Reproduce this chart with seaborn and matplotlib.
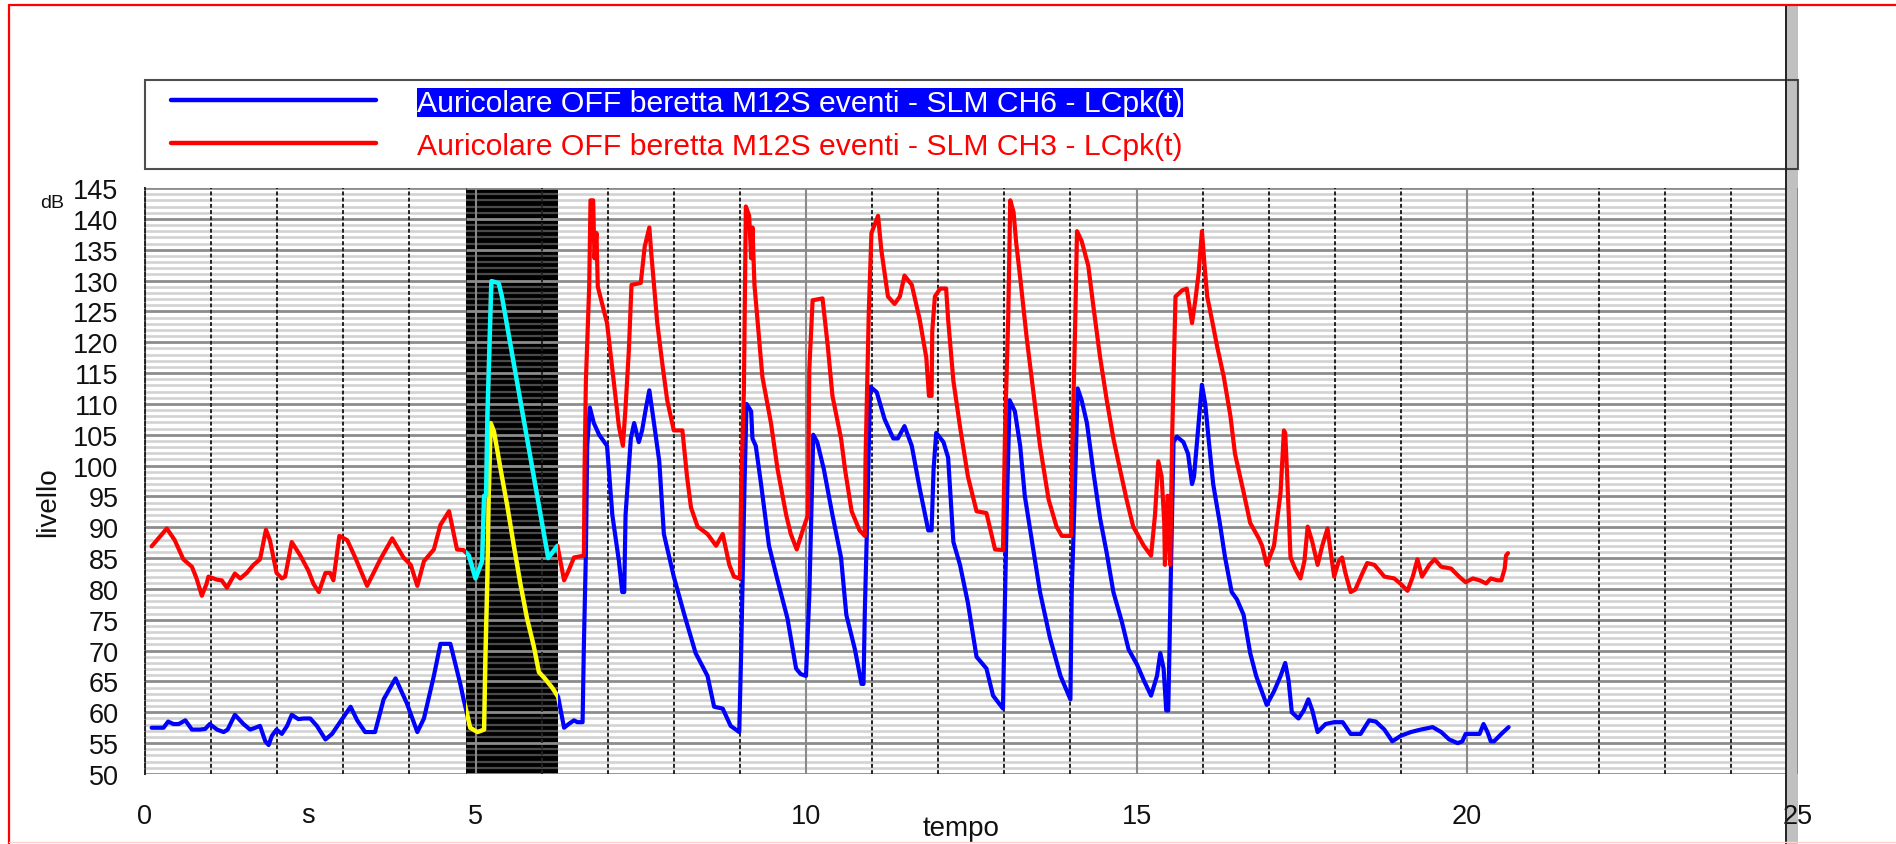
import numpy as np
import matplotlib
matplotlib.use("Agg")
import matplotlib.pyplot as plt
import seaborn as sns
from matplotlib.lines import Line2D
from matplotlib.patches import Rectangle
from matplotlib.ticker import FixedLocator, MultipleLocator
from matplotlib.legend_handler import HandlerLine2D

# ---------------- data ----------------
label_ch6 = "Auricolare OFF beretta M12S eventi - SLM CH6 - LCpk(t)"
label_ch3 = "Auricolare OFF beretta M12S eventi - SLM CH3 - LCpk(t)"

t_ch6 = [0.10, 0.28, 0.35, 0.43, 0.51, 0.61, 0.71, 0.83, 0.91, 0.98, 1.09, 1.19, 1.25, 1.36, 1.49,
         1.59, 1.67, 1.74, 1.82, 1.87, 1.92, 1.99, 2.07, 2.15, 2.22, 2.32, 2.40, 2.50, 2.60, 2.73,
         2.83, 2.95, 3.11, 3.21, 3.33, 3.48, 3.61, 3.79, 3.96, 4.12, 4.22, 4.37, 4.47, 4.62, 4.77,
         4.82, 4.86, 4.92, 5.03, 5.13, 5.15, 5.18, 5.20, 5.23, 5.28, 5.38, 5.48, 5.58, 5.68, 5.78,
         5.88, 5.96, 6.04, 6.16, 6.25, 6.34, 6.41, 6.49, 6.54, 6.62, 6.64, 6.67, 6.69, 6.73, 6.79,
         6.87, 6.99, 7.07, 7.17, 7.22, 7.25, 7.27, 7.35, 7.40, 7.47, 7.52, 7.58, 7.63, 7.70, 7.78,
         7.85, 8.00, 8.16, 8.33, 8.51, 8.61, 8.74, 8.86, 8.99, 9.02, 9.07, 9.10, 9.17, 9.19, 9.24,
         9.32, 9.44, 9.57, 9.72, 9.85, 9.92, 10.00, 10.05, 10.08, 10.11, 10.17, 10.27, 10.40, 10.53,
         10.61, 10.74, 10.84, 10.87, 10.89, 10.92, 10.97, 11.07, 11.19, 11.32, 11.39, 11.49, 11.60,
         11.72, 11.85, 11.90, 11.93, 11.97, 12.08, 12.15, 12.23, 12.33, 12.45, 12.58, 12.73, 12.83,
         12.98, 13.01, 13.04, 13.08, 13.16, 13.24, 13.31, 13.42, 13.54, 13.69, 13.85, 14.00, 14.02,
         14.07, 14.11, 14.17, 14.25, 14.35, 14.45, 14.55, 14.65, 14.78, 14.88, 15.01, 15.11, 15.22,
         15.31, 15.36, 15.41, 15.45, 15.48, 15.50, 15.52, 15.56, 15.61, 15.71, 15.78, 15.84, 15.87,
         15.92, 15.99, 16.04, 16.09, 16.16, 16.26, 16.34, 16.44, 16.52, 16.62, 16.72, 16.81, 16.97,
         17.08, 17.18, 17.25, 17.30, 17.35, 17.45, 17.53, 17.60, 17.66, 17.74, 17.86, 17.99, 18.12,
         18.24, 18.39, 18.52, 18.62, 18.75, 18.87, 19.00, 19.15, 19.30, 19.48, 19.61, 19.73, 19.86,
         19.93, 19.98, 20.11, 20.19, 20.25, 20.31, 20.36, 20.41, 20.52, 20.63]
lv_ch6 = [57.5, 57.5, 58.5, 58.1, 58.1, 58.7, 57.2, 57.2, 57.3, 58.1, 57.2, 56.8, 57.2, 59.6, 58.1,
          57.2, 57.5, 57.8, 55.3, 54.7, 56.2, 57.2, 56.5, 57.8, 59.6, 58.9, 59.0, 59.0, 57.8, 55.6,
          56.5, 58.4, 60.9, 58.7, 56.8, 56.8, 62.1, 65.5, 61.5, 56.8, 59.0, 65.9, 71.1, 71.1, 64.6,
          62.1, 60.3, 57.5, 56.8, 57.2, 69.0, 82.0, 95.1, 106.9, 105.5, 99.4, 93.5, 87.0, 80.8, 75.2,
          70.8, 66.5, 65.6, 64.0, 62.5, 57.5, 58.1, 58.7, 58.4, 58.4, 71.1, 85.8, 103.2, 109.4, 106.9,
          105.0, 103.2, 92.0, 84.5, 79.5, 79.5, 92.0, 104.4, 106.9, 103.8, 105.7, 109.4, 112.2, 106.9, 100.7,
          88.9, 82.0, 75.8, 69.6, 65.9, 60.9, 60.6, 57.8, 56.8, 70.2, 97.0, 110.0, 108.8, 104.4, 103.2,
          97.0, 87.0, 81.4, 75.2, 67.1, 66.2, 65.9, 78.9, 92.0, 105.0, 103.8, 99.4, 92.0, 85.1,
          75.8, 70.2, 64.6, 64.6, 76.4, 88.9, 112.8, 111.9, 107.5, 104.4, 104.4, 106.4, 103.2,
          96.3, 89.5, 89.5, 99.4, 105.3, 103.8, 101.3, 87.6, 83.9, 77.7, 69.0, 67.1, 62.7,
          60.6, 78.3, 93.8, 110.6, 108.8, 103.2, 95.1, 87.6, 79.5, 72.1, 65.9, 62.1, 79.5,
          97.0, 112.5, 110.6, 106.9, 98.8, 91.4, 85.8, 79.5, 74.6, 70.2, 67.7, 65.2, 62.7,
          65.9, 69.6, 67.1, 60.3, 60.3, 70.8, 82.6, 103.8, 104.7, 103.8, 101.9, 97.0, 98.2,
          104.4, 113.1, 110.0, 104.4, 97.0, 90.7, 85.1, 79.5, 78.3, 75.8, 69.6, 65.9, 61.2,
          63.4, 65.9, 68.0, 65.2, 60.0, 59.0, 60.3, 62.1, 60.3, 56.8, 58.1, 58.4, 58.4,
          56.5, 56.5, 58.7, 58.5, 57.2, 55.3, 56.2, 56.8, 57.2, 57.6, 56.8, 55.6, 55.0,
          55.3, 56.5, 56.5, 56.5, 58.1, 56.8, 55.3, 55.3, 56.5, 57.6]

t_ch3 = [0.10, 0.33, 0.45, 0.58, 0.71, 0.78, 0.86, 0.93, 0.96, 1.09, 1.16, 1.24, 1.36, 1.44, 1.54,
         1.64, 1.74, 1.83, 1.89, 1.99, 2.07, 2.12, 2.22, 2.35, 2.47, 2.55, 2.63, 2.73, 2.80, 2.85,
         2.94, 3.06, 3.18, 3.36, 3.56, 3.74, 3.91, 4.02, 4.12, 4.22, 4.37, 4.47, 4.60, 4.72, 4.82,
         4.90, 5.00, 5.10, 5.13, 5.16, 5.18, 5.21, 5.24, 5.35, 5.40, 6.10, 6.24, 6.34, 6.41, 6.49,
         6.64, 6.65, 6.67, 6.72, 6.74, 6.78, 6.80, 6.83, 6.85, 6.99, 7.07, 7.17, 7.23, 7.27, 7.32,
         7.36, 7.50, 7.56, 7.63, 7.66, 7.75, 7.83, 7.90, 8.00, 8.13, 8.20, 8.26, 8.36, 8.51, 8.64,
         8.74, 8.84, 8.91, 9.00, 9.02, 9.06, 9.09, 9.14, 9.17, 9.19, 9.22, 9.34, 9.47, 9.57, 9.70,
         9.77, 9.86, 9.95, 10.03, 10.05, 10.10, 10.25, 10.33, 10.40, 10.53, 10.59, 10.69, 10.81, 10.89,
         10.90, 10.95, 10.99, 11.09, 11.14, 11.19, 11.24, 11.34, 11.42, 11.49, 11.60, 11.72, 11.82,
         11.86, 11.90, 11.91, 11.95, 12.03, 12.12, 12.15, 12.23, 12.33, 12.45, 12.58, 12.73, 12.86,
         12.98, 13.01, 13.06, 13.09, 13.14, 13.18, 13.24, 13.34, 13.44, 13.54, 13.67, 13.79, 13.87,
         14.01, 14.03, 14.07, 14.10, 14.17, 14.27, 14.35, 14.45, 14.55, 14.65, 14.75, 14.85, 14.95,
         15.11, 15.22, 15.28, 15.33, 15.38, 15.42, 15.43, 15.47, 15.51, 15.54, 15.59, 15.69, 15.76,
         15.84, 15.89, 15.94, 15.99, 16.03, 16.07, 16.14, 16.22, 16.32, 16.42, 16.49, 16.62, 16.72,
         16.85, 16.90, 16.97, 17.08, 17.18, 17.23, 17.25, 17.28, 17.33, 17.40, 17.48, 17.54, 17.59,
         17.66, 17.74, 17.81, 17.89, 17.94, 17.99, 18.06, 18.11, 18.16, 18.24, 18.31, 18.42, 18.49,
         18.60, 18.75, 18.90, 19.00, 19.10, 19.18, 19.25, 19.32, 19.43, 19.51, 19.61, 19.76, 19.88,
         19.98, 20.09, 20.19, 20.29, 20.36, 20.46, 20.52, 20.57, 20.59, 20.62]
lv_ch3 = [86.9, 89.8, 87.9, 84.8, 83.6, 81.7, 78.9, 80.8, 82.0, 81.5, 81.4, 80.2, 82.5, 81.7, 82.6,
          83.9, 84.8, 89.6, 87.9, 82.6, 81.7, 82.0, 87.6, 85.4, 83.0, 80.8, 79.5, 82.6, 82.6, 81.4,
          88.6, 87.9, 85.1, 80.5, 84.8, 88.2, 85.1, 83.9, 80.5, 84.5, 86.4, 90.4, 92.6, 86.4, 86.3,
          85.4, 81.7, 84.5, 95.1, 95.1, 108.0, 118.7, 129.9, 129.6, 127.4, 85.0, 87.0, 81.4, 83.0, 85.1,
          85.4, 99.4, 113.7, 129.0, 143.0, 143.0, 133.6, 137.7, 129.0, 123.1, 115.6, 106.3, 103.2, 109.4, 118.7,
          129.3, 129.6, 135.5, 138.6, 134.3, 123.1, 116.2, 110.6, 105.7, 105.7, 98.2, 93.2, 90.1, 88.9, 87.0,
          88.9, 83.9, 82.0, 81.7, 97.0, 111.9, 142.0, 140.5, 133.6, 138.6, 129.3, 114.4, 106.9, 99.4, 92.0,
          88.9, 86.4, 89.5, 92.0, 115.6, 126.8, 127.1, 119.3, 111.3, 104.4, 99.4, 92.6, 89.5, 88.6,
          100.7, 124.9, 137.7, 140.5, 134.9, 131.2, 127.4, 126.2, 127.4, 130.8, 129.3, 123.7, 117.5,
          111.3, 111.3, 121.8, 127.4, 128.7, 128.7, 123.7, 113.7, 106.3, 98.2, 92.6, 92.3, 86.4,
          86.3, 105.0, 124.3, 143.0, 141.1, 136.1, 130.5, 120.6, 111.9, 103.2, 94.5, 90.1, 88.6,
          88.6, 103.2, 121.8, 138.0, 136.4, 132.4, 125.6, 117.5, 110.6, 104.4, 99.4, 94.5, 90.1,
          87.0, 85.4, 92.0, 100.7, 98.2, 90.7, 83.9, 95.1, 83.9, 105.0, 127.4, 128.4, 128.7,
          123.1, 126.8, 131.2, 138.0, 132.4, 127.4, 123.7, 119.3, 114.4, 108.1, 101.9, 95.7, 90.7,
          88.2, 87.0, 83.9, 87.0, 95.7, 105.7, 105.3, 98.2, 85.1, 83.3, 81.7, 84.5, 90.1,
          87.6, 83.9, 87.0, 89.8, 85.8, 82.0, 84.5, 85.1, 82.6, 79.5, 79.9, 82.6, 84.2,
          83.9, 82.0, 81.7, 80.8, 79.7, 82.0, 84.8, 82.0, 83.9, 84.8, 83.6, 83.3, 82.0,
          81.1, 81.7, 81.4, 80.9, 81.7, 81.4, 81.4, 83.3, 85.4, 85.8]

x_ticks = [0, 5, 10, 15, 20, 25]
y_ticks = list(range(50, 146, 5))
selection = (4.85, 6.25)   # highlighted (selected) time span, in s

# ---------------- figure ----------------
W, H, DPI = 1896, 845, 100
sns.set_theme(style="white")
plt.rcParams["font.family"] = ["Liberation Sans", "DejaVu Sans"]

fig = plt.figure(figsize=(W / DPI, H / DPI), dpi=DPI, facecolor="white")
ax = fig.add_axes([145 / W, 1 - 775 / H, (1797.5 - 145) / W, (775 - 189) / H])
ax.set_facecolor("white")

ax.set_xlim(0, 25)
ax.set_ylim(50, 145)
ax.xaxis.set_major_locator(FixedLocator(x_ticks))
ax.xaxis.set_minor_locator(MultipleLocator(1))
ax.yaxis.set_major_locator(FixedLocator(y_ticks))
ax.yaxis.set_minor_locator(MultipleLocator(1))

ax.set_axisbelow(True)
ax.yaxis.set_zorder(0.45)
ax.grid(which="major", axis="y", color="#8c8c8c", lw=2.0)
ax.grid(which="minor", axis="y", color="#d2d2d2", lw=1.9)
ax.grid(which="major", axis="x", color="#8a8a8a", lw=1.5, ls="-")
ax.grid(which="minor", axis="x", color="#222222", lw=1.4, ls=(0, (2, 1.2)))

for s in ["top", "right", "bottom"]:
    ax.spines[s].set_visible(False)
ax.spines["left"].set_color("#222222")
ax.spines["left"].set_linewidth(1.4)
ax.spines["left"].set_linestyle((0, (2, 1.2)))

ax.tick_params(axis="both", which="major", direction="out", length=16, width=1.8,
               color="black", labelsize=19.5, labelcolor="#111111")
ax.tick_params(axis="y", which="major", pad=3)
ax.tick_params(axis="x", which="major", pad=6, length=15)
ax.tick_params(axis="both", which="minor", length=0)

# selected span (black band) with its darker grid
band = ax.axvspan(selection[0], selection[1], color="black", zorder=0.47, lw=0)
minor_y = [v for v in range(51, 145) if v % 5 != 0]
ax.hlines(minor_y, selection[0], selection[1], colors="#4a4a4a", lw=1.6, zorder=0.48)
ax.hlines(y_ticks, selection[0], selection[1], colors="#8c8c8c", lw=2.0, zorder=0.48)

# series
lw = 3.0
sns.lineplot(x=t_ch6, y=lv_ch6, color="#0000ff", lw=lw, ax=ax, zorder=3, sort=False)
sns.lineplot(x=t_ch3, y=lv_ch3, color="#ff0000", lw=lw, ax=ax, zorder=3, sort=False)
# inverted colours inside the selection
sns.lineplot(x=t_ch6, y=lv_ch6, color="#ffff00", lw=lw + 0.2, ax=ax, zorder=4, sort=False)
ax.lines[-1].set_clip_path(band)
sns.lineplot(x=t_ch3, y=lv_ch3, color="#00ffff", lw=lw + 0.2, ax=ax, zorder=4, sort=False)
ax.lines[-1].set_clip_path(band)
if ax.get_legend() is not None:
    ax.get_legend().remove()

# scrollbar-like bar at the right edge
ax.axvspan(24.83, 25.0, color="#c0c0c0", zorder=5, lw=0)
fig.add_artist(Rectangle((1786 / W, 0), 12 / W, 1 - 6 / H, transform=fig.transFigure,
                         facecolor="#c0c0c0", edgecolor="none", zorder=-1))
fig.add_artist(Line2D([1785.5 / W, 1785.5 / W], [0, 1 - 6 / H], transform=fig.transFigure,
                      color="#222222", lw=1.4, zorder=10))

# labels
ax.set_ylabel("livello", fontsize=20, color="#111111", va="center")
ax.yaxis.set_label_coords((48 - 145) / 1652.5, (775 - 502) / 586)
ax.set_xlabel("tempo", fontsize=20, color="#111111", va="bottom")
ax.xaxis.set_label_coords((961 - 145) / 1652.5, (775 - 842) / 586)
fig.text(308 / W, 1 - 816 / H, "s", ha="center", va="center", fontsize=19.5, color="#111111")
fig.text(52 / W, 1 - 203 / H, "dB", ha="center", va="center", fontsize=14, color="#111111")


# legend
class PadHandler(HandlerLine2D):
    def __init__(self, lpad, **kw):
        super().__init__(**kw)
        self.lpad = lpad

    def get_xdata(self, legend, xdescent, ydescent, width, height, fontsize):
        xd = np.array([-xdescent + self.lpad, -xdescent + width])
        return xd, xd


h6 = Line2D([], [], color="#0000ff", lw=3.2)
h3 = Line2D([], [], color="#ff0000", lw=3.2)
fs_leg = 21.7
leg = fig.legend([h6, h3], [label_ch6, label_ch3], loc="lower left",
                 bbox_to_anchor=(145 / W, 1 - 170 / H, (1798 - 145) / W, (170 - 79) / H),
                 mode="expand", borderaxespad=0, fontsize=fs_leg, handlelength=160 / fs_leg,
                 handletextpad=29.5 / fs_leg, borderpad=0.3, labelspacing=0.5,
                 frameon=True, fancybox=False, edgecolor="#222222", facecolor="none",
                 handler_map={h6: PadHandler(11.9), h3: PadHandler(11.9)})
leg.get_frame().set_linewidth(1.5)
txt6, txt3 = leg.get_texts()
txt6.set_color("white")
txt6.set_bbox(dict(boxstyle="square,pad=0.02", facecolor="#0000ff", edgecolor="none"))
txt3.set_color("#ff0000")

# screenshot frame
fig.add_artist(Line2D([9 / W, 1], [1 - 6 / H, 1 - 6 / H], transform=fig.transFigure,
                      color="#ff0000", lw=1.6, zorder=11))
fig.add_artist(Line2D([9 / W, 9 / W], [0, 1 - 6 / H], transform=fig.transFigure,
                      color="#ff0000", lw=1.6, zorder=11))
fig.add_artist(Line2D([9 / W, 1], [2 / H, 2 / H], transform=fig.transFigure,
                      color="#ffd0d0", lw=1.0, zorder=11))

fig.savefig("out.png", dpi=DPI, facecolor="white")
